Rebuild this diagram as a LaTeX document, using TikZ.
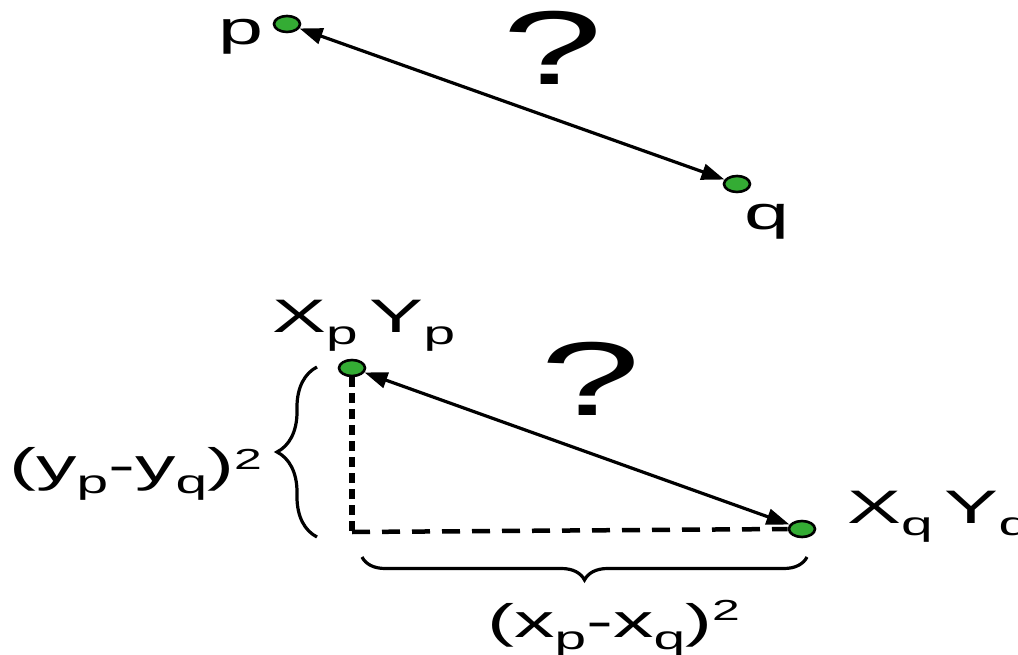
\documentclass[tikz,border=0pt]{standalone}
\usepackage{fontspec}
\usepackage{graphicx}
\setmainfont{Liberation Sans}
\usetikzlibrary{arrows.meta,decorations.pathreplacing,shapes.geometric}
\definecolor{dotgreen}{RGB}{52,172,52}
\newcommand\mysub[1]{\raisebox{-12pt}{\fontsize{33}{33}\selectfont #1}}
\newcommand\mysup[2]{\raisebox{#1}{\fontsize{29}{29}\selectfont #2}}
\newcommand\wide[1]{\scalebox{1.72}[1]{#1}}
\begin{document}
\begin{tikzpicture}[x=1pt,y=-1pt,
  dot/.style={ellipse, draw=black, line width=2.6pt, fill=dotgreen, minimum width=26pt, minimum height=16pt, inner sep=0pt, outer sep=1.3pt},
  lbl/.style={inner sep=0pt, font=\fontsize{47}{47}\selectfont},
  qmark/.style={inner sep=0pt, font=\fontsize{105}{105}\selectfont, anchor=base},
  conn/.style={line width=3.2pt, {Triangle[length=23pt,width=16pt]}-{Triangle[length=23pt,width=16pt]}},
  dashv/.style={line width=5.5pt, dash pattern=on 10pt off 6pt},
  dashh/.style={line width=4.5pt, dash pattern=on 18pt off 12pt},
  curly/.style={line width=3.2pt, decorate, decoration={brace, amplitude=#1}}
]
\useasboundingbox (0,0) rectangle (1018,655);

% top part
\node[dot] (P1) at (287,24) {};
\node[dot] (Q1) at (737,184) {};
\node[lbl, anchor=base] (plbl) at (241,45) {\wide{p}};
\node[lbl, anchor=base] (qlbl) at (767,230) {\wide{q}};
\node[qmark] (q1mark) at (553,85) {\wide{?}};
\draw[conn] (P1) -- (Q1);

% bottom part
\node[dot] (P2) at (352,368) {};
\node[dot] (Q2) at (802,529) {};
\coordinate (C) at (352,532);
\node[lbl, anchor=base west] (xpyp) at (272,332) {\wide{X\mysub{p}\hspace{7pt}Y\mysub{p}}};
\node[lbl, anchor=base west] (xqyq) at (847,523) {\wide{X\mysub{q}\hspace{7pt}Y\mysub{q}}};
\node[qmark] (q2mark) at (591,415) {\wide{?}};
\draw[dashv] (P2.south) -- (C);
\draw[dashh] (C) -- (Q2.west);
\draw[conn] (P2) -- (Q2);

% braces
\coordinate (lbB) at (317,537);
\coordinate (lbT) at (317,367);
\draw[curly=40] (lbB) -- (lbT);
\coordinate (bbR) at (807,557);
\coordinate (bbL) at (362,557);
\draw[curly=23] (bbR) -- (bbL);

\node[lbl, anchor=base east] (ylbl) at (262,481) {\wide{(y\mysub{p}-y\mysub{q})\mysup{12pt}{2}}};
\node[lbl, anchor=base east] (xlbl) at (740,637) {\wide{(x\mysub{p}-x\mysub{q})\mysup{17pt}{2}}};
\end{tikzpicture}
\end{document}
